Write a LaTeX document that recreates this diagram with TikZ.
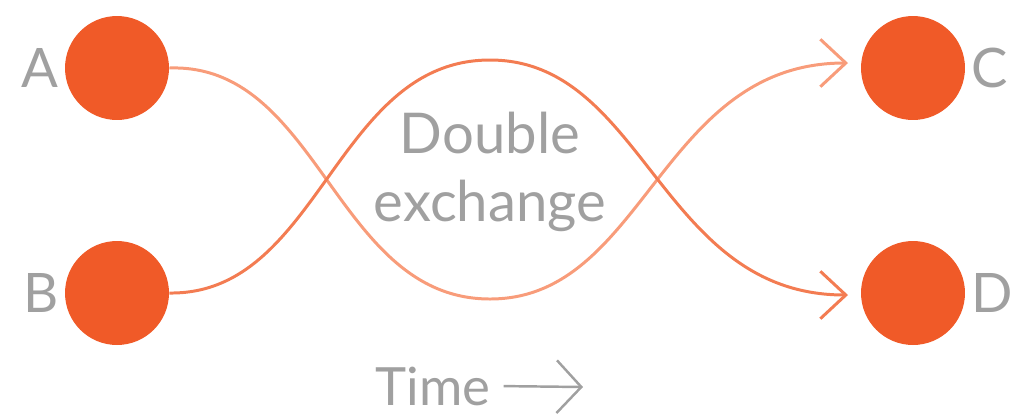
\documentclass[tikz,border=0pt]{standalone}
\usepackage{fontspec}
\setmainfont{Lato}
\usetikzlibrary{arrows.meta}

\definecolor{dotred}{HTML}{F05A28}
\definecolor{pathlight}{HTML}{F89C7A}
\definecolor{pathdark}{HTML}{F37C52}
\definecolor{textgrey}{HTML}{A0A0A0}

\begin{document}
\begin{tikzpicture}[
    x=0.02cm, y=-0.02cm,
    particle/.style={circle, fill=dotred, minimum size=2.08cm, inner sep=0pt,
                     label distance=-3pt, label={[text=textgrey, font=\fontsize{31}{36}\selectfont]#1}},
    track/.style={line width=1.7pt, -{Straight Barb[length=14.5pt, width=27pt, line width=1.7pt]}},
    caption/.style={text=textgrey, align=center, font=\fontsize{32}{38.5}\selectfont}
]
\useasboundingbox (0,0) rectangle (1018,414);

% Particles
\node (a) [particle=left:A]  at (117,68)  {};
\node (b) [particle=left:B]  at (117,293) {};
\node (c) [particle=right:C] at (913,68)  {};
\node (d) [particle=right:D] at (913,293) {};

% Arrow ends in front of C and D
\coordinate (cin) at (848,63);
\coordinate (din) at (848,295);

% Exchange paths
\draw[track, pathlight] (a.east) .. controls (320,63) and (335,299) .. (490,299)
                                 .. controls (645,299) and (660,63) .. (cin);
\draw[track, pathdark]  (b.east) .. controls (320,295) and (335,60) .. (490,60)
                                 .. controls (645,60) and (660,295) .. (din);

\node (swap) [caption] at (490,172) {Double\\exchange};

% Time axis
\node (time) [caption, font=\fontsize{30}{36}\selectfont] at (433,386) {Time};
\coordinate (tend) at (583,387);
\draw[textgrey, line width=1.4pt, shorten <=4pt, -{Straight Barb[length=14pt, width=30pt, line width=1.4pt]}]
    (time.east) -- (tend);

\end{tikzpicture}
\end{document}
